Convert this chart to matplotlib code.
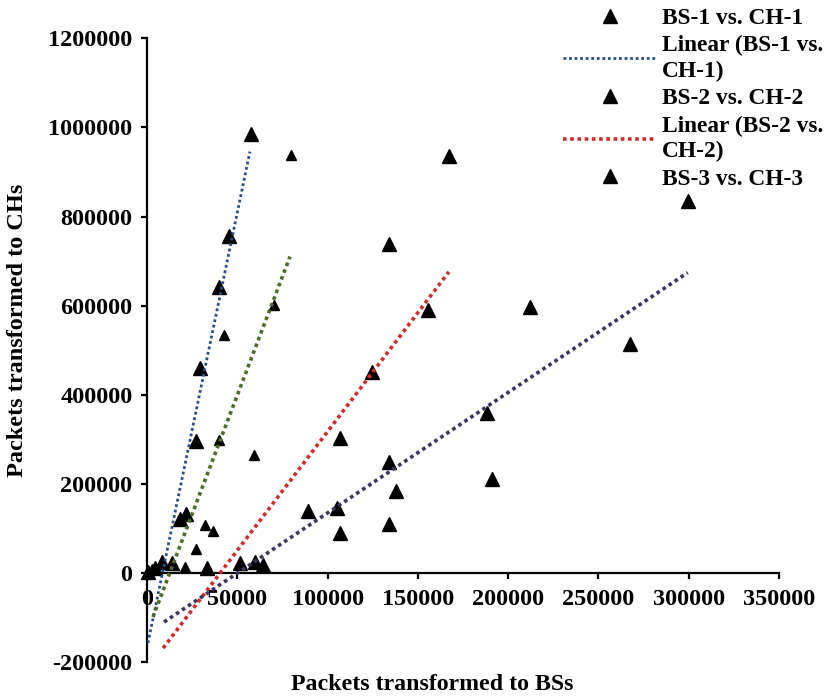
"""
Scatter of packets sent to BSs vs packets sent to CHs, with linear trendlines.
"""

import matplotlib

matplotlib.use("Agg")
import matplotlib.pyplot as plt
from matplotlib.lines import Line2D

# Data
bs1_x = [57600, 45400, 39900, 29300, 27100, 18300, 21600, 500, 4400, 8300, 13800]
bs1_y = [986000, 757000, 643000, 461000, 297000, 121000, 133000, 2000, 11000, 25000, 22000]

bs2_x = [167200, 134000, 155600, 124600, 106900, 134000, 89100, 105200, 33200, 51500]
bs2_y = [937000, 739000, 591000, 452000, 303000, 249000, 139000, 146000, 11000, 22000]

bs3_x = [79700, 42600, 70300, 39900, 59200, 32100, 36500, 27100, 21000, 3000]
bs3_y = [939000, 535000, 602000, 299000, 265000, 108000, 94000, 54000, 13000, 8000]

bs4_x = [299500, 212000, 267400, 188300, 137900, 191000, 106900, 134000, 59800, 64200]
bs4_y = [834000, 598000, 515000, 360000, 184000, 211000, 90000, 110000, 25000, 18000]

# Linear trendlines: slope, intercept, x-span (BS-1, BS-2, BS-3, BS-4)
trend_slope = [19.52, 5.335, 10.66, 2.703]
trend_intercept = [-166800, -216000, -134000, -135400]
trend_start = [500, 8900, 3300, 9400]
trend_end = [57000, 167200, 79200, 299500]
trend_colors = ["#2a4d86", "#d12a2a", "#4f6a2a", "#40335f"]

x_ticks = [0, 50000, 100000, 150000, 200000, 250000, 300000, 350000]
y_ticks = [-200000, 0, 200000, 400000, 600000, 800000, 1000000, 1200000]

plt.rcParams["font.family"] = ["Liberation Serif", "DejaVu Serif"]
plt.rcParams["font.weight"] = "bold"

fig = plt.figure(figsize=(8.26, 6.97), dpi=100)
ax = fig.add_axes([0.178, 0.050, 0.765, 0.895])

big = dict(marker="^", linestyle="none", color="black", markersize=10.5, clip_on=False, zorder=2)
small = dict(marker="^", linestyle="none", color="black", markersize=7, clip_on=False, zorder=2)

ax.plot(bs1_x, bs1_y, **big)
ax.plot(bs2_x, bs2_y, **big)
ax.plot(bs3_x, bs3_y, **small)
ax.plot(bs4_x, bs4_y, **big)

for k, (m, b, x0, x1) in enumerate(zip(trend_slope, trend_intercept, trend_start, trend_end)):
    lw = 2.0 if k == 0 else 2.6
    ax.plot([x0, x1], [m * x0 + b, m * x1 + b], color=trend_colors[k], lw=lw,
            linestyle=(0, (1, 1)), dash_capstyle="butt", zorder=3)

ax.set_xlim(0, 350000)
ax.set_ylim(-200000, 1200000)
ax.set_xticks(x_ticks)
ax.set_yticks(y_ticks)
ax.set_xticklabels([str(v) for v in x_ticks])
ax.set_yticklabels([str(v) for v in y_ticks])

ax.spines["top"].set_visible(False)
ax.spines["right"].set_visible(False)
ax.spines["bottom"].set_position(("data", 0))
for s in ("left", "bottom"):
    ax.spines[s].set_linewidth(1.6)

ax.tick_params(axis="x", direction="out", length=4.5, width=1.6, pad=7, labelsize=17.5)
ax.tick_params(axis="y", direction="out", length=4.5, width=1.6, pad=6, labelsize=17.5)
for lab in ax.get_xticklabels() + ax.get_yticklabels():
    lab.set_fontweight("bold")

fig.text(432 / 826, 1 - 684 / 697, "Packets transformed to BSs", ha="center", va="center",
         fontsize=17.2, fontweight="bold")
fig.text(18 / 826, 1 - 330 / 697, "Packets transformed to CHs", ha="center", va="center",
         rotation=90, fontsize=17.5, fontweight="bold")

# Legend (only first five entries fit in the figure)
mk = dict(marker="^", linestyle="none", color="black", markersize=10.5)
handles = [
    Line2D([], [], **mk),
    Line2D([], [], color=trend_colors[0], lw=2.0, linestyle=(0, (1, 1))),
    Line2D([], [], **mk),
    Line2D([], [], color=trend_colors[1], lw=2.6, linestyle=(0, (1, 1))),
    Line2D([], [], **mk),
]
labels = [
    "BS-1 vs. CH-1",
    "Linear (BS-1 vs.\nCH-1)",
    "BS-2 vs. CH-2",
    "Linear (BS-2 vs.\nCH-2)",
    "BS-3 vs. CH-3",
]
leg = fig.legend(handles, labels, loc="upper left", bbox_to_anchor=(563 / 826, 0.989),
                 frameon=False, borderpad=0, borderaxespad=0, handlelength=4.0,
                 handletextpad=0.25, labelspacing=0.27, numpoints=1,
                 prop=dict(family="Liberation Serif", weight="bold", size=16.8))
for t in leg.get_texts():
    t.set_linespacing(1.25)

fig.savefig("out.png", dpi=100)
